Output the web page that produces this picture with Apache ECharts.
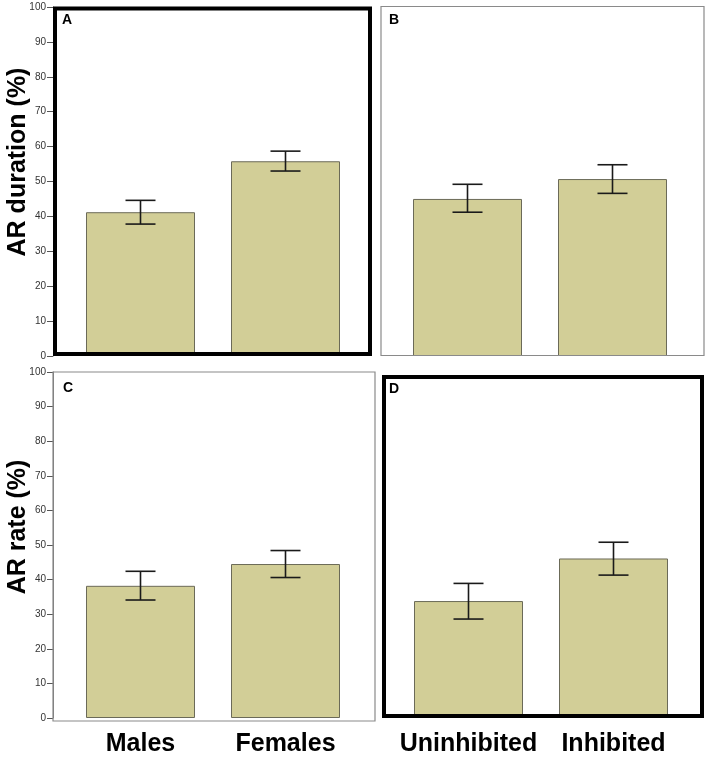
<!DOCTYPE html>
<html>
<head>
<meta charset="utf-8">
<script src="https://cdn.jsdelivr.net/npm/echarts@6/dist/echarts.min.js"></script>
<style>
  html, body { margin: 0; padding: 0; background: #fff; }
  #main { width: 709px; height: 757px; }
</style>
</head>
<body>
<div id="main"></div>
<script>
// categories
var sexGroups = ['Males', 'Females']
var tempGroups = ['Uninhibited', 'Inhibited']

// AR duration (%) - panels A and B
var durationSex = [41.2, 55.8]
var durationSexLow = [37.8, 53.0]
var durationSexHigh = [44.6, 58.7]
var durationTemp = [45.0, 50.7]
var durationTempLow = [41.2, 46.6]
var durationTempHigh = [49.2, 54.8]

// AR rate (%) - panels C and D
var rateSex = [38.2, 44.5]
var rateSexLow = [34.1, 40.6]
var rateSexHigh = [42.4, 48.4]
var rateTemp = [33.8, 46.1]
var rateTempLow = [28.6, 41.3]
var rateTempHigh = [38.9, 50.8]

// y axis ticks
var yMin = 0
var yMax = 100
var yStep = 10

var barColor = '#d2ce97'
var labelFont = '"Liberation Sans", Arial, sans-serif'

function errorData(low, high) {
  var out = []
  for (var i = 0; i < low.length; i++) {
    out.push([i, low[i], high[i]])
  }
  return out
}

// whisker with caps
function renderError(params, api) {
  var x = api.value(0)
  var lo = api.coord([x, api.value(1)])
  var hi = api.coord([x, api.value(2)])
  var half = 15
  var st = { stroke: '#1a1a1a', lineWidth: 1.6 }
  return {
    type: 'group',
    children: [
      { type: 'line', shape: { x1: lo[0], y1: lo[1], x2: hi[0], y2: hi[1] }, style: st },
      { type: 'line', shape: { x1: hi[0] - half, y1: hi[1], x2: hi[0] + half, y2: hi[1] }, style: st },
      { type: 'line', shape: { x1: lo[0] - half, y1: lo[1], x2: lo[0] + half, y2: lo[1] }, style: st }
    ]
  }
}

var panels = [
  { left: 68, top: 7, cats: sexGroups, vals: durationSex, low: durationSexLow, high: durationSexHigh, yAxis: true, xLabel: false },
  { left: 395, top: 7, cats: tempGroups, vals: durationTemp, low: durationTempLow, high: durationTempHigh, yAxis: false, xLabel: false },
  { left: 68, top: 372, cats: sexGroups, vals: rateSex, low: rateSexLow, high: rateSexHigh, yAxis: true, xLabel: true },
  { left: 396, top: 372, cats: tempGroups, vals: rateTemp, low: rateTempLow, high: rateTempHigh, yAxis: false, xLabel: true }
]

var grids = [], xAxes = [], yAxes = [], series = []
panels.forEach(function (p, i) {
  grids.push({ left: p.left, top: p.top, width: 290, height: 349, containLabel: false })
  xAxes.push({
    type: 'category',
    gridIndex: i,
    data: p.cats,
    axisLine: { show: false },
    axisTick: { show: false },
    axisLabel: {
      show: p.xLabel,
      interval: 0,
      hideOverlap: false,
      color: '#000',
      fontSize: 25,
      fontWeight: 'bold',
      fontFamily: labelFont,
      margin: 14
    }
  })
  yAxes.push({
    type: 'value',
    gridIndex: i,
    show: p.yAxis,
    min: yMin,
    max: yMax,
    interval: yStep,
    offset: 15,
    splitLine: { show: false },
    axisLine: { show: true, lineStyle: { color: '#777', width: 1 } },
    axisTick: { show: true, length: 6, lineStyle: { color: '#555' } },
    axisLabel: { color: '#333', fontSize: 10, fontFamily: labelFont, margin: 7 }
  })
  series.push({
    type: 'bar',
    xAxisIndex: i,
    yAxisIndex: i,
    barWidth: 109,
    data: p.vals,
    itemStyle: { color: barColor, borderColor: '#6b6a58', borderWidth: 1 },
    z: 2
  })
  series.push({
    type: 'custom',
    xAxisIndex: i,
    yAxisIndex: i,
    renderItem: renderError,
    data: errorData(p.low, p.high),
    z: 3
  })
})

// panel frames and letters
function frame(x, y, w, h, thick) {
  return {
    type: 'rect',
    z: 10,
    shape: { x: x, y: y, width: w, height: h },
    style: { fill: null, stroke: thick ? '#000' : '#8a8a8a', lineWidth: thick ? 4 : 1.2 }
  }
}
function letter(t, x, y) {
  return {
    type: 'text', z: 11, x: x, y: y,
    style: { text: t, fill: '#000', font: 'bold 14px ' + labelFont }
  }
}
function yTitle(t, x, y) {
  return {
    type: 'text', z: 11, x: x, y: y, rotation: Math.PI / 2,
    style: { text: t, fill: '#000', font: 'bold 25px ' + labelFont, textAlign: 'center', textVerticalAlign: 'middle' }
  }
}

var graphics = [
  frame(55, 8.5, 315, 345.5, true),
  frame(381, 6.5, 323, 349, false),
  frame(53, 372, 322, 349, false),
  frame(384, 377, 318, 339, true),
  letter('A', 62, 13),
  letter('B', 389, 13),
  letter('C', 63, 381),
  letter('D', 389, 382),
  yTitle('AR duration (%)', 18, 162),
  yTitle('AR rate (%)', 18, 527)
]

var chart = echarts.init(document.getElementById('main'), null, { renderer: 'canvas' })
chart.setOption({
  backgroundColor: '#fff',
  animation: false,
  grid: grids,
  xAxis: xAxes,
  yAxis: yAxes,
  series: series,
  graphic: graphics
})
</script>
</body>
</html>
